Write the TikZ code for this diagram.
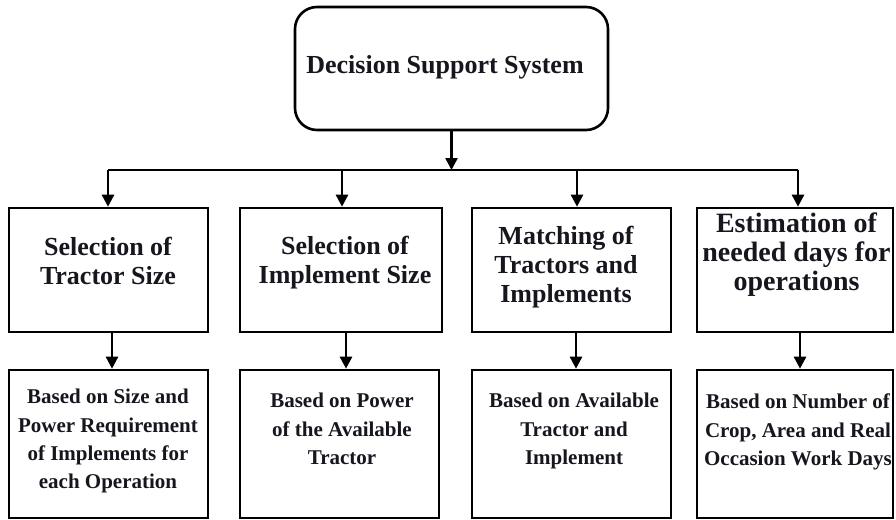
\documentclass[tikz,border=0pt]{standalone}
\usepackage{fontspec}
\setmainfont{Liberation Serif}
\usetikzlibrary{arrows.meta}
\definecolor{ink}{RGB}{22,22,30}
\begin{document}
\begin{tikzpicture}[x=1pt,y=-1pt,
  box/.style={draw=black, line width=2.6pt, inner sep=0pt, fill=white},
  topbox/.style={box, rounded corners=22pt, minimum width=313pt, minimum height=123pt},
  midbox/.style={box, minimum height=124pt},
  lowbox/.style={box, minimum height=148pt},
  toptext/.style={inner sep=0pt, text=ink, font=\fontsize{26}{29}\selectfont\bfseries},
  midtext/.style={anchor=north, align=center, inner sep=0pt, text=ink,
    font=\fontsize{26}{29}\selectfont\bfseries},
  bigtext/.style={midtext, font=\fontsize{28}{29}\selectfont\bfseries},
  lowtext/.style={anchor=north, align=center, inner sep=0pt, text=ink,
    font=\fontsize{21}{28.3}\selectfont\bfseries},
  wire/.style={line width=2.6pt},
  arr/.style={line width=2.6pt, -{Triangle[length=12pt,width=12pt]}}
]
\useasboundingbox (0,0) rectangle (896,519);
\clip (0,0) rectangle (896,519);
\fill[white] (0,0) rectangle (896,519);

% top box
\node[topbox] (dss) at (451.5,68.5) {};
\node[toptext] (dsst) at (445,67) {Decision Support System};

% middle row
\node[midbox, minimum width=199pt] (m1) at (108.5,270) {};
\node[midbox, minimum width=202pt] (m2) at (341,270) {};
\node[midbox, minimum width=199pt] (m3) at (571.5,270) {};
\node[midbox, minimum width=196pt] (m4) at (795,270) {};

% bottom row
\node[lowbox, minimum width=199pt] (l1) at (108.5,444) {};
\node[lowbox, minimum width=199pt] (l2) at (339.5,444) {};
\node[lowbox, minimum width=199pt] (l3) at (571.5,444) {};
\node[lowbox, minimum width=196pt] (l4) at (795,444) {};

% texts
\node[midtext] (t1) at (108,236.5) {Selection of\\Tractor Size};
\node[midtext] (t2) at (345,235.5) {Selection of\\Implement Size};
\node[midtext] (t3) at (566,225.5) {Matching of\\Tractors and\\Implements};
\node[bigtext] (t4) at (796.5,213) {Estimation of\\needed days for\\operations};

\node[lowtext] (u1) at (108,389) {Based on Size and\\Power Requirement\\of Implements for\\each Operation};
\node[lowtext] (u2) at (342,393) {Based on Power\\of the Available\\Tractor};
\node[lowtext] (u3) at (574,393) {Based on Available\\Tractor and\\Implement};
\node[lowtext] (u4) at (798,394) {Based on Number of\\Crop, Area and Real\\Occasion Work Days};

% bus
\coordinate (d1) at (108,170);
\coordinate (d2) at (342,170);
\coordinate (d3) at (577,170);
\coordinate (d4) at (798,170);
\draw[wire] (d1) -- (d4);
\draw[arr] (dss.south) -- (dss.south |- d1);
\draw[arr] (d1) -- (d1 |- m1.north);
\draw[arr] (d2) -- (d2 |- m2.north);
\draw[arr] (d3) -- (d3 |- m3.north);
\draw[arr] (d4) -- (d4 |- m4.north);

% lower arrows
\coordinate (e1) at (112,0);
\coordinate (e2) at (346,0);
\coordinate (e3) at (576,0);
\coordinate (e4) at (800,0);
\draw[arr] (e1 |- m1.south) -- (e1 |- l1.north);
\draw[arr] (e2 |- m2.south) -- (e2 |- l2.north);
\draw[arr] (e3 |- m3.south) -- (e3 |- l3.north);
\draw[arr] (e4 |- m4.south) -- (e4 |- l4.north);
\end{tikzpicture}
\end{document}
